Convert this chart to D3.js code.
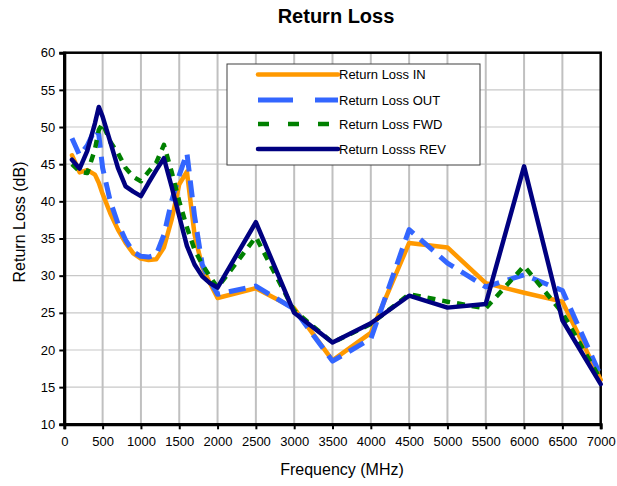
<!DOCTYPE html>
<html>
<head>
<meta charset="utf-8">
<script src="https://cdn.jsdelivr.net/npm/d3@7"></script>
<style>
  body { margin: 0; background: #fff; }
  svg { font-family: "Liberation Sans", Arial, sans-serif; }
</style>
</head>
<body>
<div id="chart"></div>
<script>
// frequencies (MHz) shared by all series
var freqs = [100, 200, 300, 400, 450, 500, 600, 700, 800, 900, 1000, 1100, 1200, 1300, 1400, 1500,
  1600, 1700, 1800, 1900, 2000, 2500, 3000, 3500, 4000, 4500, 5000, 5500, 6000, 6500, 7000];

var lossIn = [46.2, 43.9, 44.2, 43.6, 42.5, 41.0, 38.4, 36.2, 34.4, 33.0, 32.3, 32.1, 32.2, 33.8, 37.5, 42.3,
  44.0, 35.5, 31.2, 29.0, 27.0, 28.3, 25.6, 18.6, 22.3, 34.4, 33.8, 29.0, 27.7, 26.5, 16.0];
var lossOut = [48.5, 46.2, 47.5, 49.7, 49.0, 44.5, 40.0, 37.0, 34.8, 33.2, 32.6, 32.5, 32.8, 35.5, 40.0, 43.5,
  46.5, 38.0, 31.5, 29.3, 27.5, 28.6, 25.5, 18.5, 21.5, 36.2, 31.7, 28.5, 30.1, 28.0, 16.5];
var lossFwd = [45.0, 44.0, 43.8, 47.0, 49.6, 50.5, 48.0, 46.5, 44.5, 43.3, 42.7, 44.0, 45.2, 47.6, 44.0, 40.0,
  36.5, 33.5, 31.5, 29.9, 28.4, 35.2, 25.3, 21.0, 23.5, 27.5, 26.5, 25.6, 31.3, 25.0, 16.0];
var lossRev = [45.6, 44.4, 46.8, 50.5, 52.7, 51.4, 48.0, 44.5, 42.0, 41.3, 40.7, 42.5, 44.2, 45.8, 42.0, 38.0,
  34.0, 31.5, 29.9, 29.0, 28.4, 37.2, 25.0, 21.0, 23.6, 27.3, 25.7, 26.2, 44.7, 24.0, 15.4];

var seriesNames = ["Return Loss IN", "Return Loss OUT", "Return Loss FWD", "Return Losss REV"];
var xTicks = d3.range(0, 7001, 500);
var yTicks = d3.range(10, 61, 5);

var width = 617, height = 486;
var margin = { top: 52.7, right: 16.3, bottom: 61.7, left: 64.3 };

var series = [
  { name: seriesNames[0], values: lossIn,  color: "#FF9900", w: 4.5, dash: null,   legendDash: null },
  { name: seriesNames[1], values: lossOut, color: "#3366FF", w: 5,   dash: "17,9", legendDash: "35,22" },
  { name: seriesNames[2], values: lossFwd, color: "#008000", w: 4.5, dash: "8,7",  legendDash: "11,19" },
  { name: seriesNames[3], values: lossRev, color: "#000080", w: 4.5, dash: null,   legendDash: null }
];

var svg = d3.select("#chart").append("svg")
  .attr("width", width)
  .attr("height", height);

var x = d3.scaleLinear().domain([0, 7000]).range([margin.left, width - margin.right]);
var y = d3.scaleLinear().domain([10, 60]).range([height - margin.bottom, margin.top]);

// gridlines
svg.append("g").selectAll("line").data(yTicks.slice(1, -1)).enter().append("line")
  .attr("x1", x(0)).attr("x2", x(7000))
  .attr("y1", function (d) { return y(d); }).attr("y2", function (d) { return y(d); })
  .attr("stroke", "#c8c8c8").attr("stroke-width", 1.2);
svg.append("g").selectAll("line").data(xTicks.slice(1, -1)).enter().append("line")
  .attr("y1", y(10)).attr("y2", y(60))
  .attr("x1", function (d) { return x(d); }).attr("x2", function (d) { return x(d); })
  .attr("stroke", "#c0c0c0").attr("stroke-width", 2);

// frame
svg.append("rect")
  .attr("x", x(0)).attr("y", y(60))
  .attr("width", x(7000) - x(0)).attr("height", y(10) - y(60))
  .attr("fill", "none").attr("stroke", "#000").attr("stroke-width", 2.5);

// axes
var xAxis = svg.append("g")
  .attr("transform", "translate(0," + y(10) + ")")
  .call(d3.axisBottom(x).tickValues(xTicks).tickSize(5).tickPadding(7).tickFormat(d3.format("d")));
var yAxis = svg.append("g")
  .attr("transform", "translate(" + x(0) + ",0)")
  .call(d3.axisLeft(y).tickValues(yTicks).tickSize(5).tickPadding(4));
[xAxis, yAxis].forEach(function (a) {
  a.select(".domain").attr("stroke", "#000").attr("stroke-width", 3);
  a.selectAll(".tick line").attr("stroke", "#000").attr("stroke-width", 2);
  a.selectAll("text").attr("font-size", 13).attr("fill", "#000")
    .attr("font-family", "Liberation Sans, Arial, sans-serif");
});

// lines
var line = d3.line()
  .x(function (d, i) { return x(freqs[i]); })
  .y(function (d) { return y(d); });

svg.append("g").selectAll("path").data(series).enter().append("path")
  .attr("d", function (d) { return line(d.values); })
  .attr("fill", "none")
  .attr("stroke", function (d) { return d.color; })
  .attr("stroke-width", function (d) { return d.w; })
  .attr("stroke-dasharray", function (d) { return d.dash; })
  .attr("stroke-linejoin", "round")
  .attr("stroke-linecap", function (d) { return d.dash ? "butt" : "round"; });

// legend
var legend = svg.append("g").attr("transform", "translate(227,64)");
legend.append("rect")
  .attr("width", 253).attr("height", 101)
  .attr("fill", "#fff").attr("stroke", "#404040").attr("stroke-width", 1);
var rows = legend.selectAll("g.row").data(series).enter().append("g")
  .attr("class", "row")
  .attr("transform", function (d, i) { return "translate(0," + [10.5, 36, 60, 85][i] + ")"; });
rows.append("line")
  .attr("x1", 31).attr("x2", 111)
  .attr("stroke", function (d) { return d.color; })
  .attr("stroke-width", function (d) { return d.w; })
  .attr("stroke-dasharray", function (d) { return d.legendDash; })
  .attr("stroke-linecap", function (d) { return d.legendDash ? "butt" : "round"; });
rows.append("text")
  .attr("x", 112).attr("dy", "0.36em")
  .attr("font-size", 13)
  .text(function (d) { return d.name; });

// titles
svg.append("text")
  .attr("x", 336).attr("y", 23)
  .attr("text-anchor", "middle")
  .attr("font-size", 20).attr("font-weight", "bold")
  .text("Return Loss");
svg.append("text")
  .attr("x", 342).attr("y", 475)
  .attr("text-anchor", "middle")
  .attr("font-size", 16)
  .text("Frequency (MHz)");
svg.append("text")
  .attr("transform", "translate(25,222) rotate(-90)")
  .attr("text-anchor", "middle")
  .attr("font-size", 16)
  .text("Return Loss (dB)");
</script>
</body>
</html>
